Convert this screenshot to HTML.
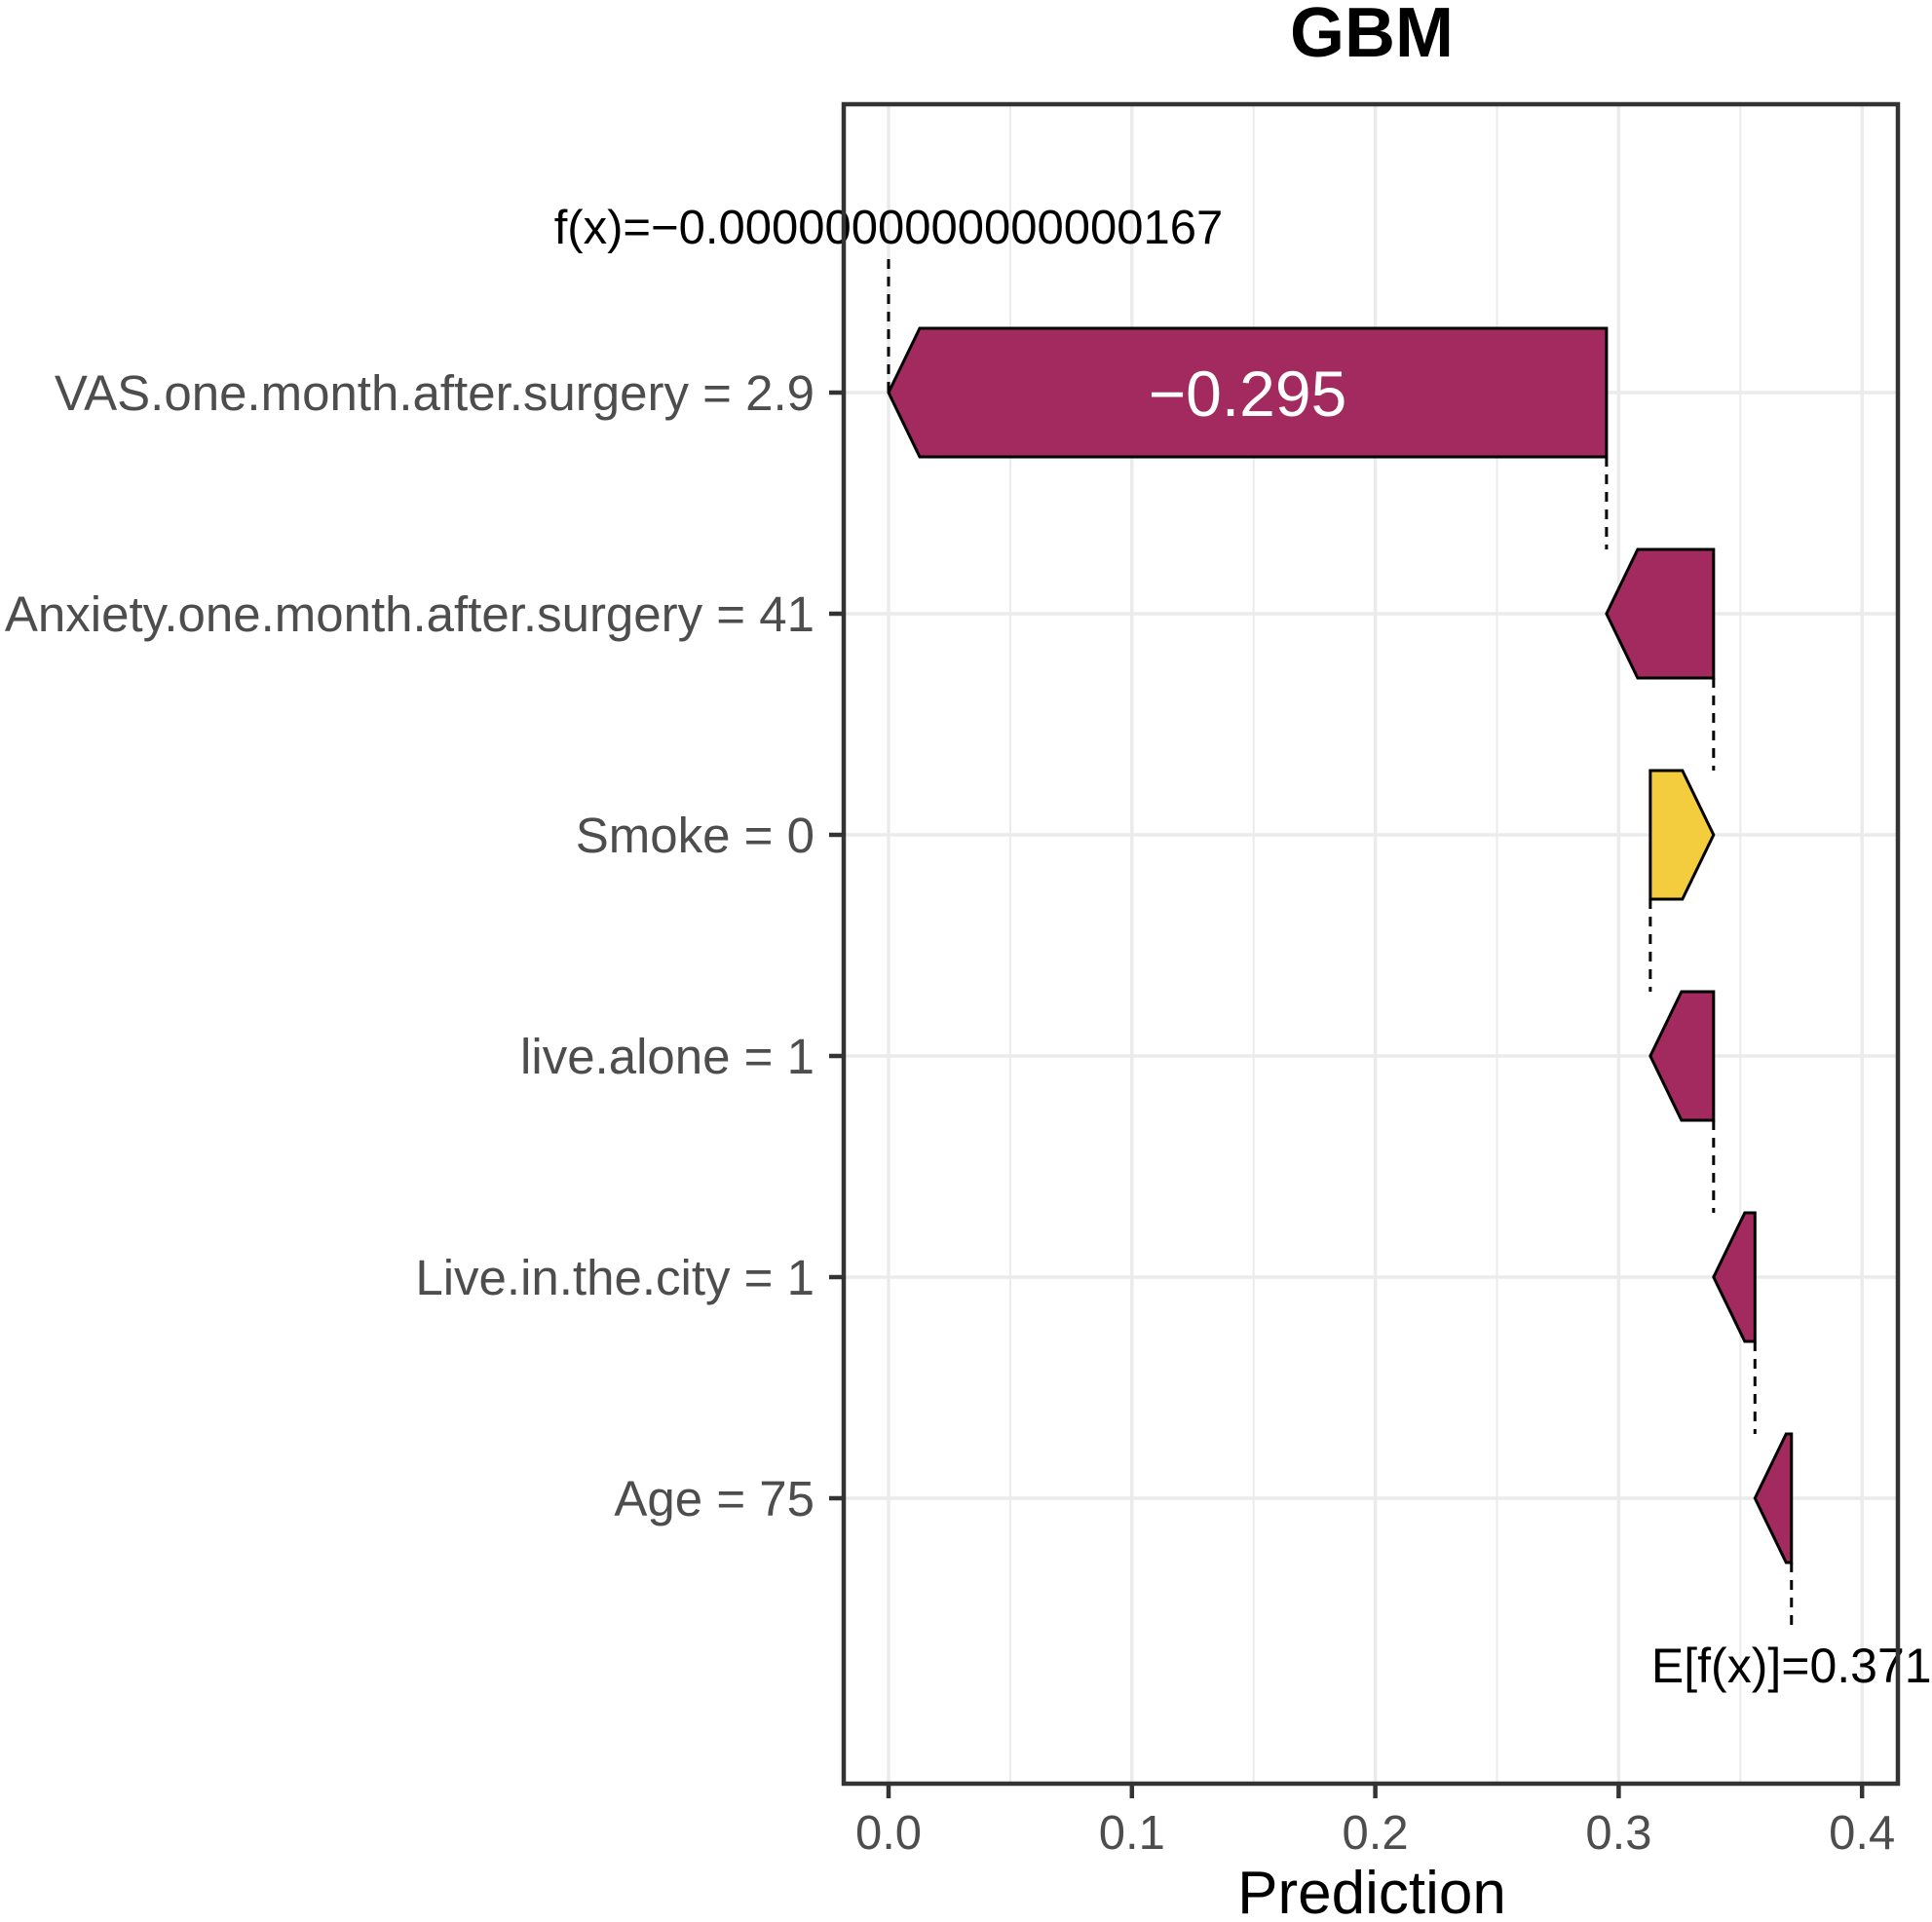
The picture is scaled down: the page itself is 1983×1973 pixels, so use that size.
<!DOCTYPE html>
<html><head><meta charset="utf-8"><style>
html,body{margin:0;padding:0;background:#fff;}
svg{display:block;font-family:"Liberation Sans",Arial,sans-serif;}
</style></head><body>
<svg id="chart" width="1983" height="1973" viewBox="0 0 1983 1973" xmlns="http://www.w3.org/2000/svg">
<text x="1408" y="58" font-size="72" font-weight="bold" text-anchor="middle" fill="#000">GBM</text>
<g id="grid"></g>
<g id="marks"></g>
<rect x="866" y="107" width="1082" height="1724" fill="none" stroke="#333" stroke-width="4.5"/>
<g id="axes"></g>
<text x="1408" y="1964" font-size="62" text-anchor="middle" fill="#000">Prediction</text>
</svg>
<script>
const features = ["VAS.one.month.after.surgery = 2.9","Anxiety.one.month.after.surgery = 41","Smoke = 0","live.alone = 1","Live.in.the.city = 1","Age = 75"];
const startVals = [0.295, 0.339, 0.313, 0.339, 0.356, 0.371];
const endVals = [0.0, 0.295, 0.339, 0.313, 0.339, 0.356];
const barLabels = ["\u22120.295", "", "", "", "", ""];
const xTicks = [0.0, 0.1, 0.2, 0.3, 0.4];
const xTickLabels = ["0.0","0.1","0.2","0.3","0.4"];
const fxLabel = "f(x)=\u22120.0000000000000000167";
const efxLabel = "E[f(x)]=0.371";
const fxValue = 0.0;
const efxValue = 0.371;

const NS = "http://www.w3.org/2000/svg";
const X0 = 912, XS = 2498;
const xs = v => X0 + v * XS;
const ys = i => 403 + i * 227;
const HH = 66, TIP = 32;
const PL = 866, PR = 1948, PT = 107, PB = 1831;
function mk(tag, attrs, parent){const e=document.createElementNS(NS,tag);for(const k in attrs)e.setAttribute(k,attrs[k]);parent.appendChild(e);return e;}
const grid=document.getElementById('grid'), marks=document.getElementById('marks'), axes=document.getElementById('axes');

for(let i=0;i<xTicks.length-1;i++){
  const m=(xTicks[i]+xTicks[i+1])/2;
  const l=mk('line',{x1:xs(m),x2:xs(m),y1:PT,y2:PB,stroke:'#ebebeb','stroke-width':2},grid);
  
  
}
xTicks.forEach((t,i)=>{
  const l=mk('line',{x1:xs(t),x2:xs(t),y1:PT,y2:PB,stroke:'#ebebeb','stroke-width':3.5},grid);
  
  
  const tk=mk('line',{x1:xs(t),x2:xs(t),y1:PB,y2:PB+15,stroke:'#333','stroke-width':4.5},axes);
  
  
  const tx=mk('text',{x:xs(t),y:1898,'font-size':49,'text-anchor':'middle',fill:'#4d4d4d'},axes);
  tx.textContent=xTickLabels[i];
  
  
});
features.forEach((f,i)=>{
  const y=ys(i);
  const l=mk('line',{x1:PL,x2:PR,y1:y,y2:y,stroke:'#ebebeb','stroke-width':3.5},grid);
  
  
  const tk=mk('line',{x1:PL-15,x2:PL,y1:y,y2:y,stroke:'#333','stroke-width':4.5},axes);
  
  
  const tx=mk('text',{x:836,y:y+18,'font-size':51,'text-anchor':'end',fill:'#4d4d4d'},axes);
  tx.textContent=f;
  
  
});
features.forEach((f,i)=>{
  const y=ys(i), s=xs(startVals[i]), e=xs(endVals[i]);
  const dir = e < s ? -1 : 1;
  const len = Math.abs(e-s);
  const tip = Math.min(TIP, len);
  const b = e - dir*tip;
  const pts=[[s,y-HH],[b,y-HH],[e,y],[b,y+HH],[s,y+HH]].map(p=>p.join(',')).join(' ');
  const p=mk('polygon',{points:pts,fill: dir<0 ? '#a32a5e' : '#f4cd3e',stroke:'#000','stroke-width':3},marks);
  
  
  if(barLabels[i]){
    const t=mk('text',{x:(s+e)/2,y:y+24,'font-size':66,'text-anchor':'middle',fill:'#fff'},marks);
    t.textContent=barLabels[i];
    
    
  }
  if(i<features.length-1){
    const c=mk('line',{x1:s,x2:s,y1:y+HH,y2:ys(i+1)-HH,stroke:'#000','stroke-width':3,'stroke-dasharray':'10,8'},marks);
    
    
  }
});
const fl=mk('line',{x1:xs(fxValue),x2:xs(fxValue),y1:266,y2:ys(0),stroke:'#000','stroke-width':3,'stroke-dasharray':'10,8'},marks);


const ft=mk('text',{x:xs(fxValue),y:250,'font-size':49,'text-anchor':'middle',fill:'#000'},marks);
ft.textContent=fxLabel;


const last=features.length-1;
const el=mk('line',{x1:xs(efxValue),x2:xs(efxValue),y1:ys(last)+HH,y2:1672,stroke:'#000','stroke-width':3,'stroke-dasharray':'10,8'},marks);


const et=mk('text',{x:xs(efxValue),y:1727,'font-size':50,'text-anchor':'middle',fill:'#000'},marks);
et.textContent=efxLabel;


</script>
</body></html>
